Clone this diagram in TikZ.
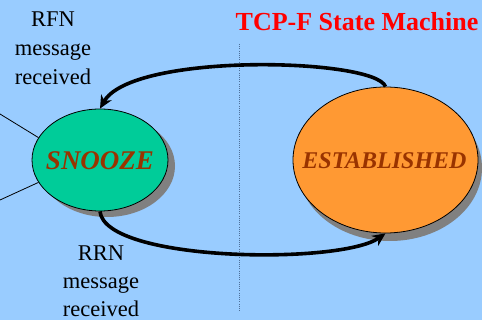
\documentclass[tikz,border=0pt]{standalone}
\usepackage{fontspec}
\setmainfont{Liberation Serif}
\usetikzlibrary{shapes.geometric,arrows.meta}
\definecolor{bgblue}{HTML}{99CCFF}
\definecolor{snoozefill}{HTML}{00CC99}
\definecolor{estfill}{HTML}{FF9933}
\definecolor{statetext}{HTML}{993300}
\definecolor{shadowgray}{HTML}{808080}
\definecolor{divider}{HTML}{4D6F99}
\tikzset{
  state/.style={ellipse, draw=black, line width=0.8pt, inner sep=0pt},
  stateshadow/.style={ellipse, fill=shadowgray, inner sep=0pt},
  statelabel/.style={text=statetext, anchor=base},
  transition/.style={line width=3.6pt, -{Stealth[length=13pt,width=12pt]}},
  caption/.style={align=center, anchor=base, font=\fontsize{22.5}{28.5}\selectfont},
  lead/.style={line width=0.8pt}
}
\begin{document}
\begin{tikzpicture}[x=1pt,y=-1pt]
  \fill[bgblue] (0,0) rectangle (482,320);
  \useasboundingbox (0,0) rectangle (482,320);

  % dotted divider
  \coordinate (divtop) at (239,44);
  \coordinate (divbot) at (239,312);
  \draw[divider, line width=1pt, dash pattern=on 1pt off 1.2pt] (divtop) -- (divbot);

  % title
  \node[text=red, font=\fontsize{26}{30}\selectfont\bfseries, anchor=base]
    (title) at (357,31) {TCP-F State Machine};

  % shadows
  \node[stateshadow, minimum width=136pt, minimum height=102pt] (snoozeshadow) at (107,166) {};
  \node[stateshadow, minimum width=184pt, minimum height=146pt] (estshadow) at (390,168) {};

  % states
  \node[state, fill=snoozefill, minimum width=136pt, minimum height=102pt] (snooze) at (100,160) {};
  \node[statelabel, font=\fontsize{27}{30}\selectfont\bfseries\itshape]
    (snoozelabel) at (100,170) {SNOOZE};
  \node[state, fill=estfill, minimum width=185pt, minimum height=146pt] (est) at (385.5,160) {};
  \node[statelabel, font=\fontsize{24}{28}\selectfont\bfseries\itshape]
    (estlabel) at (384.5,169) {ESTABLISHED};

  % lines entering from the left
  \coordinate (leadA) at (0,114);
  \coordinate (leadB) at (0,200);
  \draw[lead] (leadA) -- (snooze.160);
  \draw[lead] (leadB) -- (snooze.200);

  % transitions
  \draw[transition] (est.north) .. controls (375,58) and (132,52) .. (snooze.north);
  \draw[transition] (snooze.south) .. controls (105,262) and (340,265) .. (est.south);

  % captions
  \node[caption] (rfn) at (53,27) {RFN};
  \node[caption] (rfnmsg) at (53,56) {message};
  \node[caption] (rfnrec) at (53,85) {received};
  \node[caption] (rrn) at (101,261) {RRN};
  \node[caption] (rrnmsg) at (101,289) {message};
  \node[caption] (rrnrec) at (101,317) {received};
\end{tikzpicture}
\end{document}
